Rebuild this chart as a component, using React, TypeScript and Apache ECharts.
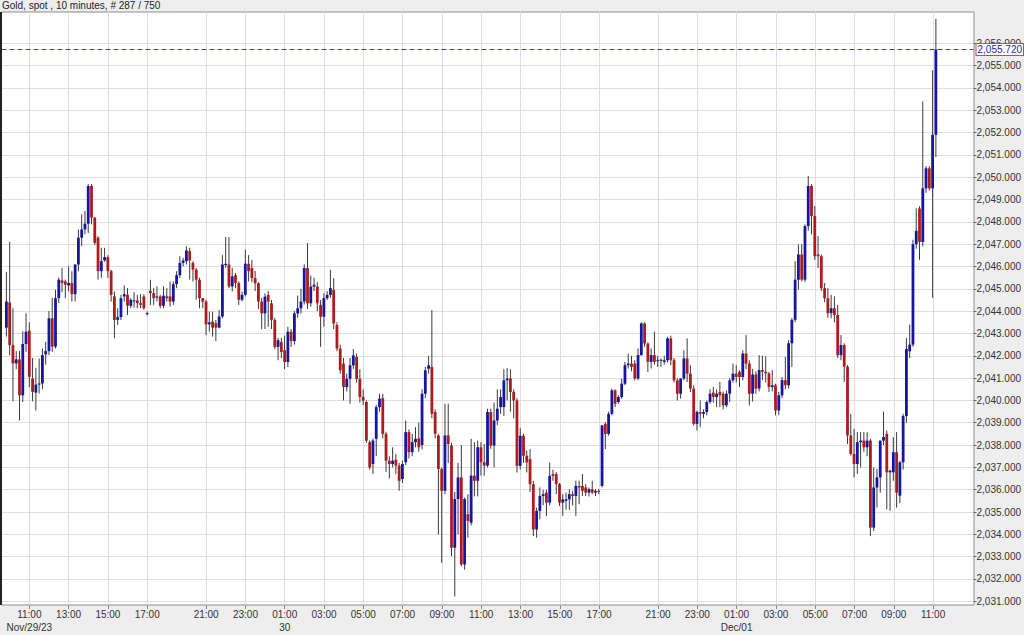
import React, { useEffect, useRef } from "react";
import * as echarts from "echarts";

const chartTitle = "Gold, spot , 10 minutes, # 287 / 750";
const lastPrice = 2055.72;

// 10-minute bars, Nov 29 09:50 -> Dec 01 11:10 (market closed 17:00-18:00)
const openP = [
  2043.26, 2044.39, 2042.48, 2041.66, 2041.84, 2040.23, 2042.53, 2043.13, 2040.98, 2040.35, 2040.71, 2040.76, 2042.06, 2042.21, 2043.68,
  2042.41, 2044.58, 2045.38, 2045.33, 2045.15, 2045.26, 2044.76, 2046.09, 2047.29, 2047.66, 2047.92, 2049.61, 2048.19, 2047.29, 2045.79,
  2046.27, 2046.42, 2045.79, 2044.66, 2043.61, 2043.73, 2044.66, 2044.73, 2044.24, 2044.46, 2044.48, 2044.36, 2044.66, 2043.88, 2044.91,
  2044.81, 2044.61, 2044.66, 2044.24, 2044.66, 2044.66, 2044.43, 2045.21, 2045.61, 2046.16, 2046.24, 2046.69, 2046.16, 2045.86, 2045.41,
  2044.58, 2044.43, 2043.41, 2043.53, 2043.46, 2043.26, 2043.76, 2046.06, 2046.09, 2045.11, 2045.61, 2045.26, 2044.51, 2044.73, 2046.12,
  2045.93, 2045.48, 2045.25, 2044.43, 2043.9, 2044.73, 2044.35, 2043.6, 2042.4, 2042.62, 2042.25, 2041.72, 2043.08, 2042.66, 2043.9,
  2044.13, 2044.43, 2045.93, 2044.35, 2045.1, 2045.1, 2044.28, 2043.75, 2044.58, 2044.73, 2044.95, 2043.38, 2042.32, 2041.65, 2040.6,
  2040.97, 2041.57, 2041.95, 2040.97, 2040.15, 2039.93, 2038.13, 2037.15, 2038.28, 2039.7, 2040.1, 2038.5, 2037.3, 2037.15, 2037.35,
  2037.08, 2036.48, 2037.23, 2038.58, 2037.68, 2038.13, 2038.3, 2038.0, 2040.3, 2041.42, 2041.5, 2039.48, 2038.43, 2036.93, 2035.95,
  2038.43, 2037.98, 2033.4, 2035.58, 2036.55, 2032.65, 2034.9, 2034.52, 2036.63, 2036.4, 2037.9, 2037.23, 2037.08, 2039.48, 2037.98,
  2039.1, 2039.7, 2039.7, 2040.9, 2040.98, 2040.38, 2040.0, 2037.07, 2038.42, 2037.52, 2037.37, 2036.25, 2034.22, 2035.05, 2035.72,
  2035.87, 2035.42, 2036.7, 2036.7, 2036.25, 2035.42, 2035.5, 2035.57, 2035.8, 2035.72, 2036.17, 2036.17, 2036.1, 2035.87, 2036.02,
  2035.87, 2035.95, 2036.17, 2038.95, 2038.5, 2039.4, 2040.45, 2039.93, 2040.15, 2040.75, 2041.58, 2041.65, 2041.65, 2040.98, 2042.03,
  2043.45, 2042.55, 2041.73, 2042.03, 2041.8, 2041.8, 2041.73, 2041.8, 2042.78, 2041.8, 2040.9, 2040.3, 2040.98, 2041.88, 2041.2,
  2040.53, 2038.95, 2039.48, 2039.4, 2039.48, 2039.93, 2040.35, 2040.15, 2040.38, 2040.3, 2039.78, 2040.3, 2040.9, 2041.2, 2041.28,
  2041.05, 2042.1, 2041.65, 2040.3, 2041.16, 2040.53, 2041.36, 2041.28, 2041.21, 2040.6, 2040.68, 2039.55, 2040.23, 2040.91, 2040.68,
  2042.56, 2043.61, 2045.41, 2046.54, 2045.41, 2047.81, 2049.61, 2048.26, 2046.54, 2046.46, 2045.03, 2044.58, 2043.91, 2044.13, 2043.83,
  2042.03, 2042.48, 2041.51, 2038.43, 2037.6, 2037.15, 2038.13, 2038.2, 2037.9, 2038.2, 2034.3, 2036.1, 2036.55, 2038.2, 2038.5,
  2036.78, 2036.78, 2037.68, 2035.73, 2037.23, 2039.3, 2042.2, 2042.5, 2047.0, 2048.6, 2047.1, 2049.5, 2050.4, 2049.5, 2051.9,
];
const highP = [
  2045.76, 2047.11, 2044.13, 2042.21, 2042.21, 2043.1, 2043.91, 2043.5, 2041.9, 2041.46, 2041.88, 2042.33, 2042.63, 2044.0, 2044.6,
  2044.96, 2045.5, 2045.94, 2045.41, 2046.01, 2045.79, 2046.09, 2047.66, 2048.34, 2048.49, 2049.69, 2049.69, 2048.22, 2047.36, 2046.84,
  2046.84, 2046.51, 2045.86, 2044.88, 2044.13, 2044.73, 2045.15, 2045.03, 2044.58, 2044.85, 2044.73, 2044.76, 2044.76, 2043.98, 2045.41,
  2045.03, 2045.11, 2044.73, 2045.11, 2045.03, 2045.33, 2045.33, 2045.79, 2046.46, 2046.39, 2046.91, 2046.84, 2046.24, 2045.94, 2045.49,
  2044.58, 2044.51, 2043.98, 2043.98, 2043.61, 2044.06, 2046.51, 2047.32, 2047.32, 2045.94, 2045.71, 2045.33, 2044.88, 2046.76, 2046.51,
  2046.3, 2045.8, 2045.3, 2044.6, 2044.8, 2044.9, 2044.5, 2043.7, 2042.8, 2042.8, 2042.9, 2043.3, 2043.2, 2044.0, 2044.7,
  2045.0, 2046.1, 2047.05, 2045.6, 2045.5, 2045.3, 2044.5, 2044.8, 2044.9, 2045.85, 2045.48, 2043.5, 2042.5, 2041.9, 2041.2,
  2041.9, 2042.3, 2042.1, 2041.4, 2040.5, 2040.0, 2038.2, 2038.3, 2039.8, 2040.3, 2040.3, 2038.6, 2037.5, 2037.9, 2037.6,
  2037.2, 2037.3, 2039.1, 2038.7, 2038.5, 2038.8, 2039.0, 2040.5, 2041.5, 2042.0, 2044.05, 2039.6, 2038.5, 2037.0, 2039.85,
  2039.85, 2038.1, 2035.9, 2037.2, 2038.0, 2035.65, 2035.8, 2038.28, 2038.13, 2038.2, 2038.13, 2038.05, 2039.63, 2039.63, 2039.9,
  2040.5, 2040.5, 2041.4, 2041.45, 2041.4, 2040.5, 2040.1, 2038.76, 2038.5, 2037.75, 2037.82, 2036.4, 2035.2, 2036.1, 2036.0,
  2036.0, 2037.22, 2036.9, 2036.8, 2036.3, 2035.8, 2035.87, 2036.02, 2035.95, 2036.4, 2036.4, 2036.7, 2036.25, 2036.1, 2036.4,
  2036.02, 2036.02, 2038.9, 2039.03, 2039.5, 2040.53, 2040.5, 2040.23, 2040.98, 2041.73, 2042.1, 2042.0, 2041.8, 2042.33, 2043.5,
  2043.5, 2042.6, 2042.33, 2043.08, 2042.0, 2041.88, 2042.0, 2042.85, 2042.9, 2041.9, 2041.0, 2041.0, 2042.25, 2042.78, 2041.58,
  2040.68, 2039.55, 2040.0, 2039.6, 2040.0, 2040.5, 2040.6, 2040.5, 2040.83, 2040.4, 2040.45, 2041.0, 2041.65, 2041.58, 2041.35,
  2042.25, 2042.93, 2041.8, 2041.4, 2041.3, 2042.03, 2042.0, 2041.98, 2041.28, 2041.36, 2040.75, 2040.38, 2041.05, 2041.95, 2042.7,
  2043.69, 2046.24, 2046.99, 2046.99, 2047.89, 2050.06, 2049.69, 2048.71, 2047.36, 2046.54, 2045.26, 2045.03, 2044.73, 2044.66, 2044.28,
  2042.93, 2042.56, 2041.58, 2039.4, 2038.73, 2038.58, 2038.58, 2038.58, 2038.58, 2038.28, 2036.99, 2036.93, 2038.2, 2039.5, 2038.65,
  2036.9, 2038.35, 2038.58, 2037.3, 2039.4, 2042.8, 2043.4, 2047.2, 2048.6, 2048.7, 2053.4, 2050.5, 2050.5, 2054.8, 2057.1,
];
const lowP = [
  2042.86, 2042.03, 2039.96, 2041.4, 2039.1, 2039.93, 2042.18, 2040.6, 2039.96, 2039.55, 2040.31, 2040.5, 2041.6, 2042.03, 2042.18,
  2042.33, 2044.36, 2044.85, 2044.58, 2044.88, 2044.43, 2044.43, 2045.79, 2046.91, 2047.44, 2047.5, 2047.89, 2046.96, 2045.41, 2045.49,
  2046.21, 2045.49, 2044.43, 2042.78, 2043.38, 2043.6, 2044.43, 2043.83, 2044.13, 2044.16, 2044.13, 2044.13, 2044.06, 2043.8, 2044.28,
  2044.28, 2044.43, 2044.13, 2044.13, 2044.43, 2044.21, 2044.28, 2045.03, 2045.49, 2046.01, 2046.09, 2045.41, 2045.33, 2044.51, 2044.13,
  2044.13, 2042.93, 2043.08, 2042.86, 2042.66, 2043.23, 2043.68, 2045.94, 2045.03, 2044.88, 2045.03, 2044.28, 2044.43, 2044.66, 2045.33,
  2045.3, 2044.9, 2044.1, 2043.2, 2043.2, 2043.3, 2043.2, 2042.3, 2041.8, 2041.9, 2041.4, 2041.5, 2042.4, 2042.5, 2043.7,
  2043.9, 2044.3, 2044.1, 2044.2, 2044.9, 2044.0, 2042.4, 2043.3, 2044.5, 2044.6, 2043.2, 2042.2, 2041.2, 2040.0, 2040.4,
  2039.85, 2041.4, 2040.8, 2039.9, 2039.8, 2038.1, 2036.9, 2036.7, 2037.5, 2039.5, 2038.3, 2036.8, 2036.5, 2037.0, 2036.7,
  2035.95, 2036.3, 2037.1, 2037.4, 2037.5, 2037.9, 2037.7, 2037.8, 2040.1, 2041.2, 2039.2, 2038.3, 2034.0, 2032.72, 2035.8,
  2037.2, 2033.02, 2031.22, 2034.0, 2032.57, 2032.42, 2033.85, 2034.4, 2035.7, 2035.7, 2036.63, 2036.63, 2037.0, 2037.83, 2037.0,
  2038.9, 2039.4, 2039.3, 2040.0, 2039.5, 2039.2, 2036.77, 2036.9, 2037.2, 2036.77, 2035.9, 2033.92, 2033.85, 2034.67, 2035.3,
  2034.82, 2035.3, 2036.4, 2035.8, 2035.27, 2034.82, 2035.1, 2035.1, 2035.3, 2034.82, 2035.35, 2035.72, 2035.72, 2035.7, 2035.8,
  2035.72, 2035.8, 2036.1, 2037.82, 2038.42, 2039.33, 2039.7, 2039.85, 2040.08, 2040.68, 2041.43, 2041.3, 2040.9, 2040.9, 2042.0,
  2042.4, 2041.28, 2041.43, 2041.6, 2041.5, 2041.5, 2041.6, 2041.7, 2041.58, 2040.8, 2040.0, 2040.08, 2040.9, 2040.83, 2040.38,
  2038.88, 2038.65, 2038.8, 2039.2, 2039.33, 2039.85, 2039.9, 2039.7, 2039.7, 2039.6, 2039.7, 2039.93, 2040.8, 2040.8, 2040.6,
  2040.9, 2041.4, 2039.78, 2039.95, 2040.3, 2040.4, 2040.9, 2040.8, 2040.38, 2040.4, 2039.33, 2039.33, 2040.1, 2040.5, 2040.53,
  2041.5, 2043.5, 2044.96, 2045.33, 2045.3, 2047.6, 2047.44, 2046.3, 2045.93, 2044.9, 2044.4, 2043.7, 2043.68, 2043.5, 2041.9,
  2041.8, 2040.83, 2038.05, 2037.53, 2036.55, 2036.7, 2037.0, 2037.7, 2037.5, 2033.92, 2034.15, 2035.2, 2035.87, 2038.0, 2035.12,
  2035.05, 2036.4, 2035.2, 2035.4, 2036.9, 2039.0, 2041.9, 2042.4, 2046.8, 2046.3, 2046.9, 2049.3, 2049.4, 2044.6, 2050.9,
];
const closeP = [
  2044.43, 2042.48, 2041.66, 2041.84, 2040.23, 2042.53, 2043.08, 2041.06, 2040.38, 2040.71, 2040.76, 2042.03, 2042.21, 2043.68, 2042.41,
  2044.58, 2045.41, 2045.26, 2045.18, 2045.26, 2044.76, 2046.09, 2047.29, 2047.66, 2047.92, 2049.61, 2048.19, 2047.06, 2045.79, 2046.24,
  2046.42, 2045.79, 2044.73, 2043.61, 2043.73, 2044.58, 2044.76, 2044.24, 2044.51, 2044.48, 2044.36, 2044.28, 2044.13, 2043.91, 2044.81,
  2044.58, 2044.66, 2044.24, 2044.69, 2044.58, 2044.43, 2045.21, 2045.61, 2046.16, 2046.27, 2046.72, 2046.27, 2045.86, 2045.41, 2044.58,
  2044.43, 2043.41, 2043.5, 2043.26, 2043.26, 2043.76, 2046.09, 2046.12, 2045.11, 2045.56, 2045.26, 2044.51, 2044.73, 2046.13, 2045.79,
  2045.48, 2045.25, 2044.43, 2043.9, 2044.65, 2044.43, 2043.6, 2042.4, 2042.7, 2042.17, 2041.72, 2043.08, 2042.66, 2043.9, 2044.13,
  2044.43, 2045.93, 2044.35, 2045.1, 2045.18, 2044.35, 2043.75, 2044.58, 2044.73, 2045.03, 2043.45, 2042.32, 2041.35, 2040.6, 2040.97,
  2041.57, 2042.02, 2040.97, 2040.15, 2039.99, 2038.2, 2037.0, 2038.2, 2039.7, 2040.08, 2038.5, 2037.3, 2037.15, 2037.3, 2037.08,
  2036.4, 2037.15, 2038.58, 2037.68, 2038.13, 2038.28, 2037.9, 2040.3, 2041.35, 2041.57, 2039.4, 2038.5, 2036.93, 2035.95, 2038.43,
  2038.05, 2033.4, 2035.58, 2036.55, 2032.65, 2035.58, 2034.6, 2036.63, 2036.4, 2037.9, 2037.23, 2037.08, 2039.48, 2037.98, 2039.1,
  2039.63, 2040.15, 2040.9, 2040.98, 2040.38, 2040.0, 2037.07, 2038.42, 2037.52, 2037.22, 2036.25, 2034.22, 2035.05, 2035.72, 2035.8,
  2035.42, 2036.62, 2036.62, 2036.25, 2035.42, 2035.57, 2035.57, 2035.8, 2035.72, 2036.17, 2036.1, 2035.95, 2035.87, 2036.02, 2035.87,
  2035.95, 2035.9, 2038.88, 2038.5, 2039.4, 2040.45, 2039.85, 2040.15, 2040.75, 2041.58, 2041.65, 2041.5, 2040.98, 2042.03, 2043.45,
  2042.55, 2041.73, 2042.03, 2041.73, 2041.8, 2041.82, 2041.8, 2042.78, 2041.8, 2040.9, 2040.3, 2040.98, 2041.88, 2041.2, 2040.53,
  2038.95, 2039.48, 2039.4, 2039.48, 2039.93, 2040.3, 2040.15, 2040.3, 2040.23, 2039.78, 2040.3, 2040.9, 2041.2, 2041.05, 2041.05,
  2042.1, 2041.65, 2040.3, 2041.16, 2040.53, 2041.36, 2041.28, 2041.21, 2040.6, 2040.68, 2039.55, 2040.23, 2040.91, 2040.68, 2042.56,
  2043.61, 2045.41, 2046.54, 2045.41, 2047.81, 2049.61, 2048.26, 2046.46, 2046.46, 2045.03, 2044.58, 2043.91, 2044.13, 2043.83, 2042.03,
  2042.48, 2041.51, 2038.43, 2037.6, 2037.15, 2038.13, 2038.2, 2037.9, 2038.2, 2034.3, 2036.1, 2036.55, 2038.2, 2038.36, 2036.78,
  2036.85, 2037.68, 2035.87, 2037.23, 2039.3, 2042.3, 2042.5, 2047.0, 2047.6, 2047.1, 2049.5, 2050.4, 2049.5, 2051.9, 2055.72,
];

// x-axis ticks: bar index, time label, date line
const tickBar = [7, 19, 31, 43, 61, 73, 85, 97, 109, 121, 133, 145, 157, 169, 181, 199, 211, 223, 235, 247, 259, 271, 283];
const tickTime = [
  "11:00", "13:00", "15:00", "17:00", "21:00", "23:00", "01:00", "03:00", "05:00", "07:00", "09:00", "11:00",
  "13:00", "15:00", "17:00", "21:00", "23:00", "01:00", "03:00", "05:00", "07:00", "09:00", "11:00",
];
const tickDate = [
  "Nov/29/23", "", "", "", "", "", "30", "", "", "", "", "",
  "", "", "", "", "", "Dec/01", "", "", "", "", "",
];

const LEAD = 1; // empty slot before the first bar
const SLOTS = 297; // bars + empty space at the right

const FONT = "Liberation Sans, Arial, sans-serif";

function fmtPrice(v: number): string {
  const s = v.toFixed(3);
  const [a, b] = s.split(".");
  return a.replace(/\B(?=(\d{3})+(?!\d))/g, ",") + "." + b;
}

export default function App() {
  const ref = useRef<HTMLDivElement>(null);

  useEffect(() => {
    if (!ref.current) return;
    const chart = echarts.init(ref.current, null, { renderer: "svg" });

    const cats = Array.from({ length: SLOTS }, (_, k) => String(k));
    const labelAt: Record<number, string> = {};
    tickBar.forEach((b, j) => {
      labelAt[b + LEAD] = tickDate[j] ? tickTime[j] + "\n" + tickDate[j] : tickTime[j];
    });
    const isTick = (idx: number) => labelAt[idx] !== undefined;

    const data = openP.map((o, i) => [i + LEAD, o, closeP[i], lowP[i], highP[i]]);

    const plotL = 1.5;
    const plotR = 974;
    const plotT = 12;
    const plotB = 605;
    const band = (plotR - plotL) / SLOTS;

    const option: any = {
      animation: false,
      backgroundColor: "#eeeeee",
      textStyle: { fontFamily: FONT },
      title: {
        text: chartTitle,
        left: 2,
        top: 0,
        padding: 0,
        textStyle: { fontSize: 10, fontWeight: "normal", color: "#222", fontFamily: FONT, lineHeight: 11 },
      },
      graphic: [
        {
          type: "rect",
          z: -10,
          shape: { x: plotL, y: plotT, width: plotR - plotL, height: plotB - plotT },
          style: { fill: "#ffffff", stroke: "#8c8c8c", lineWidth: 1 },
        },
        {
          type: "line",
          z: 10,
          shape: { x1: 1, y1: plotT, x2: 1, y2: plotB },
          style: { stroke: "#222222", lineWidth: 2 },
        },
      ],
      grid: [
        { left: plotL, right: 1024 - plotR, top: 21, bottom: 33.7 },
        { left: plotL + band / 2, right: 1024 - plotR + band / 2, top: plotT, bottom: 635 - plotB },
      ],
      xAxis: [
        { gridIndex: 0, type: "category", data: cats, boundaryGap: true, show: false },
        {
          gridIndex: 1,
          type: "category",
          data: cats,
          boundaryGap: false,
          axisLine: { show: false },
          axisTick: { show: true, interval: (i: number) => isTick(i), length: 4, lineStyle: { color: "#888888" } },
          axisLabel: {
            interval: (i: number) => isTick(i),
            formatter: (_v: string, i: number) => labelAt[i] || "",
            fontSize: 10,
            color: "#333333",
            lineHeight: 13,
            margin: 3,
            fontFamily: FONT,
          },
          splitLine: { show: true, interval: (i: number) => isTick(i), lineStyle: { color: "#dedede", width: 1 } },
        },
      ],
      yAxis: [
        {
          gridIndex: 0,
          type: "value",
          position: "right",
          min: 2031,
          max: 2057,
          interval: 1,
          axisLine: { show: false },
          axisTick: { show: true, length: 3, lineStyle: { color: "#666666" } },
          axisLabel: {
            fontSize: 10,
            color: "#333333",
            margin: 3,
            showMaxLabel: false,
            fontFamily: FONT,
            formatter: (v: number) => fmtPrice(v),
          },
          splitLine: { show: true, showMaxLine: false, lineStyle: { color: "#dedede", width: 1 } },
        },
        { gridIndex: 1, type: "value", min: 0, max: 1, show: false },
      ],
      series: [
        {
          type: "custom",
          xAxisIndex: 0,
          yAxisIndex: 0,
          clip: false,
          data,
          encode: { x: 0, y: [1, 2, 3, 4] },
          renderItem: (_params: any, api: any) => {
            const x = api.value(0);
            const o = api.value(1);
            const c = api.value(2);
            const l = api.value(3);
            const h = api.value(4);
            const pO = api.coord([x, o]);
            const pC = api.coord([x, c]);
            const pL = api.coord([x, l]);
            const pH = api.coord([x, h]);
            const w = 2.8;
            const up = c >= o;
            const top = Math.min(pO[1], pC[1]);
            const hgt = Math.max(1, Math.abs(pO[1] - pC[1]));
            return {
              type: "group",
              children: [
                {
                  type: "line",
                  shape: { x1: pH[0], y1: pH[1], x2: pL[0], y2: pL[1] },
                  style: { stroke: "#3a3a3a", lineWidth: 1 },
                },
                {
                  type: "rect",
                  shape: { x: pO[0] - w / 2, y: top, width: w, height: hgt },
                  style: { fill: up ? "#16169e" : "#ad1c1c" },
                },
              ],
            };
          },
          markLine: {
            silent: true,
            symbol: ["none", "none"],
            data: [{ yAxis: lastPrice }],
            lineStyle: { type: [5, 3], color: "#3c3cd0", width: 1 },
            label: {
              show: true,
              position: "end",
              distance: 3,
              formatter: fmtPrice(lastPrice),
              color: "#2525b0",
              backgroundColor: "#ffffff",
              borderColor: "#c84848",
              borderWidth: 1,
              padding: [1, 1, 0, 1],
              fontSize: 10,
              fontFamily: FONT,
            },
          },
        },
      ],
    };

    chart.setOption(option);
    return () => chart.dispose();
  }, []);

  return (
    <div
      ref={ref}
      style={{ position: "fixed", left: 0, top: 0, width: 1024, height: 635, background: "#eeeeee" }}
    />
  );
}
